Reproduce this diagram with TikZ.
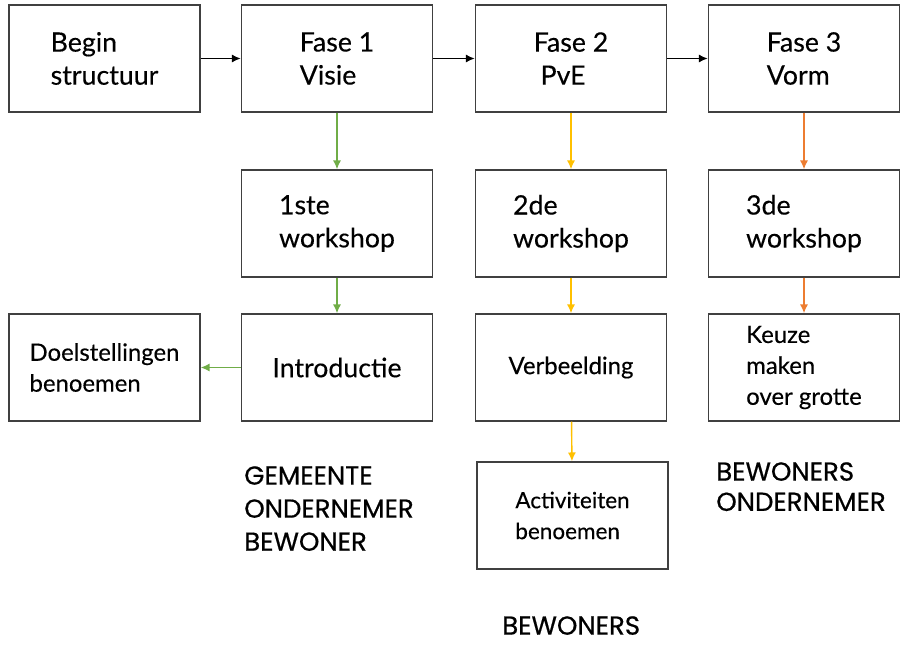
\documentclass[tikz,border=0pt]{standalone}
\usepackage{fontspec}
\setmainfont{Lato}[FakeBold=0.3]
\newfontfamily\rolfont{Poppins}[FakeBold=0.6]
\usepackage{xcolor}
\usepackage{tikz}
\usetikzlibrary{arrows.meta}
\definecolor{lijngrijs}{HTML}{404040}
\definecolor{fasegroen}{HTML}{70AD47}
\definecolor{fasegeel}{HTML}{FFC000}
\definecolor{faseoranje}{HTML}{ED7D31}

\begin{document}
\begin{tikzpicture}[x=0.025cm,y=-0.025cm,>={Latex[length=2.2mm,width=2mm]}]
		\useasboundingbox (0,0) rectangle (903,656);
		\tikzstyle{every node}+=[draw=lijngrijs,line width=1pt,rectangle,minimum width=4.775cm,minimum height=2.675cm,align=left,font=\fontsize{19}{23.5}\selectfont]
		\node (begin) at (104.5,58.5) {Begin\\structuur};
		\node (fase1) at (337,58.5) {Fase 1\\Visie};
		\node (fase2) at (571,58.5) {Fase 2\\\ PvE};
		\node (fase3) at (804,58.5) {Fase 3\\Vorm};
		\node (ws1) at (337,223.5) {1ste\\workshop};
		\node (ws2) at (571,223.5) {2de\\workshop};
		\node (ws3) at (804,223.5) {3de\\workshop};
		\node[font=\fontsize{17}{22}\selectfont] (doel) at (104.5,367.5) {Doelstellingen\\benoemen};
		\node (intro) at (337,367.5) {Introductie};
		\node[font=\fontsize{17}{22}\selectfont] (verb) at (571,367.5) {Verbeelding};
		\node[font=\fontsize{17}{22}\selectfont] (keuze) at (804,367.5) {Keuze\\maken\\over grotte};
		\node[font=\fontsize{16}{22}\selectfont] (activ) at (572.5,515.5) {Activiteiten\\benoemen};
		\tikzstyle{every node}=[]
		\node[anchor=north west,align=left,inner sep=0pt,font=\rolfont\fontsize{18.5}{23.5}\selectfont] (rol1) at (244,466) {GEMEENTE\\ONDERNEMER\\BEWONER};
		\node[anchor=north west,align=left,inner sep=0pt,font=\rolfont\fontsize{18.5}{21.5}\selectfont] (rol3) at (716,462) {BEWONERS\\ONDERNEMER};
		\node[anchor=north west,inner sep=0pt,font=\rolfont\fontsize{18.5}{21.5}\selectfont] (rol2) at (502,616) {BEWONERS};
		\draw[->,black,line width=1pt] (begin) -- (fase1);
		\draw[->,black,line width=1pt] (fase1) -- (fase2);
		\draw[->,black,line width=1pt] (fase2) -- (fase3);
		\draw[->,fasegroen,line width=1pt] (fase1) -- (ws1);
		\draw[->,fasegroen,line width=1pt] (ws1) -- (intro);
		\draw[->,fasegroen,line width=1pt] (intro) -- (doel);
		\draw[->,fasegeel,line width=1pt] (fase2) -- (ws2);
		\draw[->,fasegeel,line width=1pt] (ws2) -- (verb);
		\draw[->,fasegeel,line width=1pt] (verb) -- (activ);
		\draw[->,faseoranje,line width=1pt] (fase3) -- (ws3);
		\draw[->,faseoranje,line width=1pt] (ws3) -- (keuze);
		\end{tikzpicture}
\end{document}
